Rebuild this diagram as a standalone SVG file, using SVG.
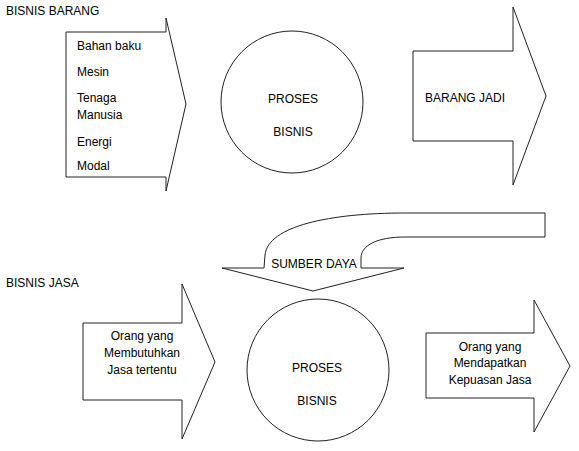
<svg xmlns="http://www.w3.org/2000/svg" width="579" height="451" viewBox="0 0 579 451">
<style>
.s{fill:#fff;stroke:#222;stroke-width:1}
text{font-family:"Liberation Sans",Arial,sans-serif;font-size:12px;fill:#000}
.c{text-anchor:middle}
</style>
<rect width="579" height="451" fill="#fff"/>
<text x="6" y="15">BISNIS BARANG</text>
<text x="6" y="287">BISNIS JASA</text>
<g id="connectors">
<path id="sumber-daya-arrow" class="s" d="M545,213 L405,213 C330,213 268,226 265,255 L264,268 L222,268 L313,291 L404,268 L361,268 L361,258 C361,245 378,237 405,237 L545,237 Z"/>
<text class="c" x="314" y="268">SUMBER DAYA</text>
</g>
<g id="input-barang">
<path class="s" d="M66,32 L166,32 L166,18 L186,104 L166,191 L166,177 L66,177 Z"/>
<text x="77" y="50">Bahan baku</text>
<text x="77" y="76">Mesin</text>
<text x="77" y="102">Tenaga</text>
<text x="77" y="119">Manusia</text>
<text x="77" y="146">Energi</text>
<text x="77" y="170">Modal</text>
</g>
<g id="proses-barang">
<circle class="s" cx="292" cy="102" r="71"/>
<text class="c" x="293" y="103">PROSES</text>
<text class="c" x="293" y="136">BISNIS</text>
</g>
<g id="barang-jadi">
<path class="s" d="M413,51 L513,51 L513,7 L546,96 L513,185 L513,141 L413,141 Z"/>
<text x="425" y="102">BARANG JADI</text>
</g>
<g id="input-jasa">
<path class="s" d="M83,323 L182,323 L182,284 L215,362 L182,439 L182,400 L83,400 Z"/>
<text class="c" x="142" y="340">Orang yang</text>
<text class="c" x="142" y="357">Membutuhkan</text>
<text class="c" x="142" y="374">Jasa tertentu</text>
</g>
<g id="proses-jasa">
<circle class="s" cx="318" cy="370" r="71"/>
<text class="c" x="317" y="372">PROSES</text>
<text class="c" x="317" y="405">BISNIS</text>
</g>
<g id="kepuasan-jasa">
<path class="s" d="M426,333 L534,333 L534,300 L570,366 L534,432 L534,398 L426,398 Z"/>
<text class="c" x="490" y="351">Orang yang</text>
<text class="c" x="490" y="367">Mendapatkan</text>
<text class="c" x="490" y="384">Kepuasan Jasa</text>
</g>
</svg>
